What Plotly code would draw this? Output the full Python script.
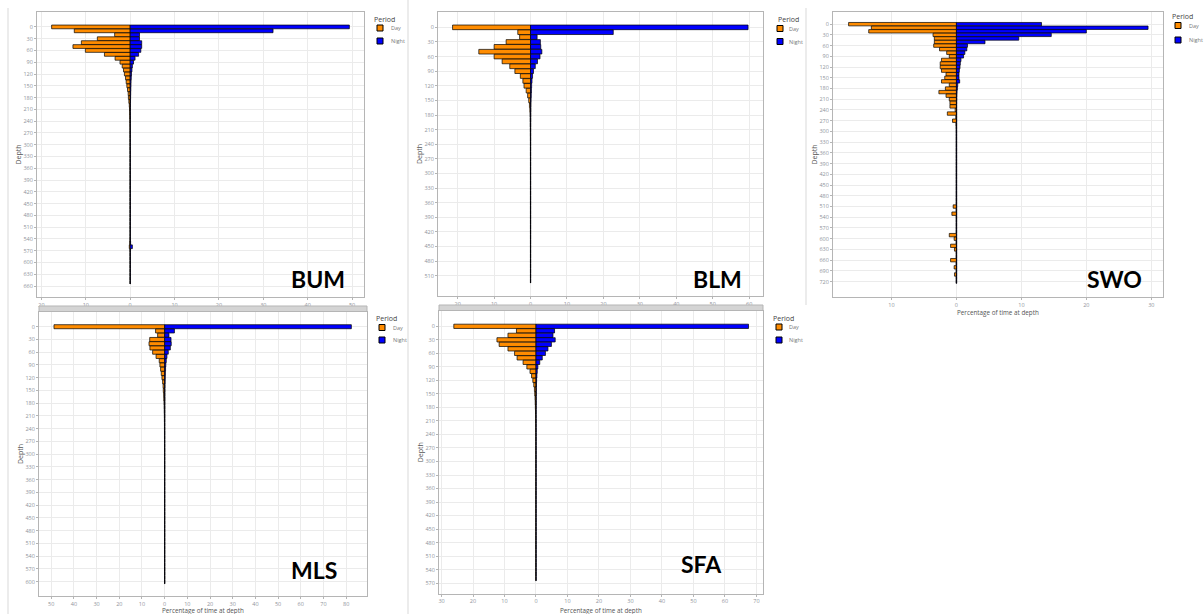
import plotly.graph_objects as go

W, H = 1204, 614
DAY_COLOR = "#FF8C00"
NIGHT_COLOR = "#0000FF"

# ---------------- data (percentage of time at depth, 10 m bins) ----------------
bum_day = [17.7, 12.6, 3.5, 7.4, 11.0, 12.9, 10.1, 5.8, 3.4, 2.3,
           1.8, 1.5, 1.3, 1.05, 0.9, 0.75, 0.6, 0.45, 0.4, 0.3,
           0.2, 0.15, 0.12, 0.1, 0.08, 0.07, 0.06, 0.06, 0.05, 0.05,
           0.05, 0.05, 0.04, 0.04, 0.04, 0.04, 0.04, 0.04, 0.04, 0.04,
           0.04, 0.04, 0.04, 0.04, 0.04, 0.04, 0.04, 0.04, 0.04, 0.04,
           0.04, 0.04, 0.04, 0.04, 0.05, 0.1, 0.2, 0.05, 0.04, 0.04,
           0.04, 0.04, 0.04, 0.04, 0.04, 0.04]
bum_night = [49.4, 32.2, 2.1, 2.1, 2.6, 2.6, 2.4, 1.9, 1.1, 0.75,
             0.5, 0.4, 0.3, 0.25, 0.2, 0.18, 0.15, 0.12, 0.1, 0.08,
             0.06, 0.05, 0.05, 0.05, 0.04, 0.04, 0.04, 0.04, 0.04, 0.04,
             0.04, 0.04, 0.04, 0.04, 0.04, 0.04, 0.04, 0.04, 0.04, 0.04,
             0.04, 0.04, 0.04, 0.04, 0.04, 0.04, 0.04, 0.04, 0.04, 0.04,
             0.04, 0.04, 0.04, 0.04, 0.05, 0.1, 0.5, 0.05, 0.04, 0.04,
             0.04, 0.04, 0.04, 0.04, 0.04, 0.04]

blm_day = [21.4, 3.5, 3.0, 6.7, 10.0, 14.2, 10.0, 7.8, 5.7, 4.3,
           2.8, 2.1, 1.8, 1.2, 0.8, 0.5, 0.3, 0.2, 0.15, 0.12,
           0.1, 0.08, 0.07, 0.06, 0.05, 0.05, 0.05, 0.04, 0.04, 0.04,
           0.04, 0.04, 0.04, 0.04, 0.04, 0.04, 0.04, 0.04, 0.04, 0.04,
           0.04, 0.04, 0.04, 0.04, 0.04, 0.04, 0.04, 0.04, 0.04, 0.04,
           0.04, 0.04, 0.04]
blm_night = [59.7, 22.7, 1.8, 2.7, 2.8, 3.1, 2.6, 1.9, 1.3, 0.8,
             0.55, 0.4, 0.3, 0.25, 0.2, 0.15, 0.12, 0.1, 0.08, 0.07,
             0.06, 0.05, 0.05, 0.05, 0.04, 0.04, 0.04, 0.04, 0.04, 0.04,
             0.04, 0.04, 0.04, 0.04, 0.04, 0.04, 0.04, 0.04, 0.04, 0.04,
             0.04, 0.04, 0.04, 0.04, 0.04, 0.04, 0.04, 0.04, 0.04, 0.04,
             0.04, 0.04, 0.04]

swo_day = [16.6, 13.1, 13.5, 3.6, 3.4, 3.4, 3.5, 2.6, 1.5, 1.1,
           2.3, 2.5, 2.5, 2.3, 1.6, 1.8, 2.3, 1.1, 1.7, 2.7,
           1.6, 1.1, 1.0, 1.0, 0.2, 1.4, 0.1, 0.6, 0.08, 0.06,
           0.05, 0.05, 0.05, 0.05, 0.05, 0.05, 0.05, 0.05, 0.05, 0.05,
           0.05, 0.05, 0.05, 0.05, 0.05, 0.05, 0.05, 0.05, 0.05, 0.05,
           0.05, 0.5, 0.05, 0.7, 0.05, 0.05, 0.05, 0.05, 0.05, 1.1,
           0.35, 0.05, 0.9, 0.3, 0.05, 0.05, 0.9, 0.05, 0.35, 0.05,
           0.3, 0.05, 0.05]
swo_night = [13.1, 29.5, 20.0, 14.6, 9.6, 4.4, 1.7, 1.6, 1.3, 1.1,
             0.7, 0.6, 0.55, 0.45, 0.4, 0.4, 0.5, 0.2, 0.15, 0.1,
             0.08, 0.07, 0.06, 0.05, 0.05, 0.05, 0.05, 0.05, 0.05, 0.05,
             0.05, 0.05, 0.05, 0.05, 0.05, 0.05, 0.05, 0.05, 0.05, 0.05,
             0.05, 0.05, 0.05, 0.05, 0.05, 0.05, 0.05, 0.05, 0.05, 0.05,
             0.05, 0.05, 0.05, 0.05, 0.05, 0.05, 0.05, 0.05, 0.05, 0.05,
             0.05, 0.05, 0.05, 0.05, 0.05, 0.05, 0.05, 0.05, 0.05, 0.05,
             0.05, 0.05, 0.05]

mls_day = [48.8, 4.0, 3.1, 6.6, 6.9, 6.5, 5.3, 3.8, 2.4, 2.1,
           1.8, 1.5, 1.2, 0.9, 0.7, 0.6, 0.45, 0.4, 0.3, 0.25,
           0.2, 0.15, 0.12, 0.1, 0.1, 0.08, 0.08, 0.07, 0.07, 0.06,
           0.06, 0.06, 0.06, 0.06, 0.06, 0.06, 0.06, 0.06, 0.06, 0.06,
           0.06, 0.06, 0.06, 0.06, 0.06, 0.06, 0.06, 0.06, 0.06, 0.06,
           0.06, 0.06, 0.06, 0.06, 0.06, 0.06, 0.06, 0.06, 0.06, 0.06,
           0.06]
mls_night = [82.3, 4.3, 1.9, 2.8, 2.9, 2.5, 1.6, 1.0, 0.7, 0.5,
             0.4, 0.3, 0.25, 0.2, 0.15, 0.12, 0.1, 0.1, 0.08, 0.08,
             0.07, 0.07, 0.06, 0.06, 0.06, 0.06, 0.06, 0.06, 0.06, 0.06,
             0.06, 0.06, 0.06, 0.06, 0.06, 0.06, 0.06, 0.06, 0.06, 0.06,
             0.06, 0.06, 0.06, 0.06, 0.06, 0.06, 0.06, 0.06, 0.06, 0.06,
             0.06, 0.06, 0.06, 0.06, 0.06, 0.06, 0.06, 0.06, 0.06, 0.06,
             0.06]

sfa_day = [26.1, 6.2, 8.9, 12.4, 11.7, 8.9, 6.8, 6.0, 4.1, 2.9,
           1.9, 1.4, 1.0, 0.7, 0.5, 0.4, 0.3, 0.25, 0.2, 0.15,
           0.12, 0.1, 0.08, 0.07, 0.06, 0.06, 0.05, 0.05, 0.05, 0.05,
           0.05, 0.05, 0.05, 0.05, 0.05, 0.05, 0.05, 0.05, 0.05, 0.05,
           0.05, 0.05, 0.05, 0.05, 0.05, 0.05, 0.05, 0.05, 0.05, 0.05,
           0.05, 0.05, 0.05, 0.05, 0.05, 0.05, 0.05]
sfa_night = [67.5, 5.9, 5.4, 6.1, 4.9, 3.8, 3.0, 2.0, 1.2, 0.6,
             0.4, 0.3, 0.2, 0.15, 0.12, 0.1, 0.08, 0.07, 0.06, 0.05,
             0.05, 0.05, 0.05, 0.05, 0.05, 0.05, 0.05, 0.05, 0.05, 0.05,
             0.05, 0.05, 0.05, 0.05, 0.05, 0.05, 0.05, 0.05, 0.05, 0.05,
             0.05, 0.05, 0.05, 0.05, 0.05, 0.05, 0.05, 0.05, 0.05, 0.05,
             0.05, 0.05, 0.05, 0.05, 0.05, 0.05, 0.05]

BIN = 10  # depth bin size (m)
periods = ["Day", "Night"]
legend_title = "Period"
x_title = "Percentage of time at depth"
y_title = "Depth"

# x tick values per panel (labels shown as absolute values)
bum_xticks = [-20, -10, 0, 10, 20, 30, 40, 50]
blm_xticks = [-20, -10, 0, 10, 20, 30, 40, 50, 60]
swo_xticks = [-10, 0, 10, 20, 30]
mls_xticks = [-50, -40, -30, -20, -10, 0, 10, 20, 30, 40, 50, 60, 70, 80]
sfa_xticks = [-30, -20, -10, 0, 10, 20, 30, 40, 50, 60, 70]

bum_yticks = list(range(0, 661, 30))
blm_yticks = list(range(0, 511, 30))
swo_yticks = list(range(0, 721, 30))
mls_yticks = list(range(0, 601, 30))
sfa_yticks = list(range(0, 571, 30))

# ---------------- layout geometry (pixels) ----------------
def px(x):
    return x / W

def py(y):
    return 1 - y / H

panels = [
    dict(name="BUM", day=bum_day, night=bum_night, xt=bum_xticks, yt=bum_yticks,
         box=(37, 364, 12, 297), xr=[-21.0, 52.7], yr=[688, -38],
         label=(318, 279), leg=(372, 19.5, 380, 28, 41, 389), xtitle=None),
    dict(name="BLM", day=blm_day, night=blm_night, xt=blm_xticks, yt=blm_yticks,
         box=(438, 763, 12, 296), xr=[-25.4, 63.8], yr=[551.5, -31.5],
         label=(717, 279), leg=(776, 19.5, 780, 28.5, 41.5, 787), xtitle=None),
    dict(name="SWO", day=swo_day, night=swo_night, xt=swo_xticks, yt=swo_yticks,
         box=(833, 1163, 12, 297), xr=[-19.0, 31.8], yr=[763, -34],
         label=(1114, 279), leg=(1170, 16, 1178, 25.5, 40, 1187), xtitle=(998, 312.5)),
    dict(name="MLS", day=mls_day, night=mls_night, xt=mls_xticks, yt=mls_yticks,
         box=(39, 367, 312, 596), xr=[-55.4, 89.2], yr=[633.6, -34.6],
         label=(314, 570), leg=(374, 318, 382, 327.5, 340, 391), xtitle=(203, 610.5)),
    dict(name="SFA", day=sfa_day, night=sfa_night, xt=sfa_xticks, yt=sfa_yticks,
         box=(439, 763, 311, 593.5), xr=[-30.8, 72.1], yr=[593, -34],
         label=(701, 564), leg=(771, 318, 779, 327, 340, 787), xtitle=(601, 610)),
]

fig = go.Figure()
layout = dict(
    width=W, height=H, autosize=False,
    margin=dict(l=0, r=0, t=0, b=0),
    paper_bgcolor="white", plot_bgcolor="white",
    font=dict(family="Open Sans, DejaVu Sans, sans-serif", color="#555"),
    barmode="overlay", showlegend=False,
)
annotations = []
shapes = []

TICK_FONT = dict(size=5.5, color="#8f939b")
GRID = "#ebebeb"
BORDER = "#b5b5b5"
OUTLINE = 0.7

for i, p in enumerate(panels, start=1):
    sfx = "" if i == 1 else str(i)
    xa, ya = "x" + sfx, "y" + sfx
    depths = [BIN * k for k in range(len(p["day"]))]
    x0, x1, y0, y1 = p["box"]

    fig.add_trace(go.Bar(
        y=depths, x=[-v for v in p["day"]], orientation="h", width=BIN * 0.95,
        marker=dict(color=DAY_COLOR, line=dict(color="black", width=OUTLINE)),
        name=periods[0], xaxis=xa, yaxis=ya, hoverinfo="skip"))
    fig.add_trace(go.Bar(
        y=depths, x=p["night"], orientation="h", width=BIN * 0.95,
        marker=dict(color=NIGHT_COLOR, line=dict(color="black", width=OUTLINE)),
        name=periods[1], xaxis=xa, yaxis=ya, hoverinfo="skip"))

    layout["xaxis" + sfx] = dict(
        domain=[px(x0), px(x1)], anchor=ya, range=p["xr"],
        tickvals=p["xt"], ticktext=[str(abs(v)) for v in p["xt"]],
        tickfont=TICK_FONT, ticks="outside", ticklen=2, tickcolor=BORDER,
        showgrid=True, gridcolor=GRID, gridwidth=1, zeroline=False,
        showline=True, linecolor=BORDER, linewidth=1, mirror=True,
        fixedrange=True,
    )
    layout["yaxis" + sfx] = dict(
        domain=[py(y1), py(y0)], anchor=xa, range=p["yr"],
        tickvals=p["yt"], ticktext=[str(v) for v in p["yt"]],
        tickfont=TICK_FONT, ticks="outside", ticklen=2, tickcolor=BORDER,
        showgrid=True, gridcolor=GRID, gridwidth=1, zeroline=False,
        showline=True, linecolor=BORDER, linewidth=1, mirror=True,
        title=dict(text=y_title, font=dict(size=7, color="#555"), standoff=0),
        fixedrange=True,
    )

    if p["xtitle"]:
        ttx, tty = p["xtitle"]
        annotations.append(dict(
            x=px(ttx), y=py(tty), xref="paper", yref="paper", showarrow=False,
            text=x_title, xanchor="center", yanchor="middle",
            font=dict(size=6.3, color="#555")))

    # legend (drawn as key squares + labels)
    tx, ty, sqx, dy, ny, lab_x = p["leg"]
    annotations.append(dict(
        x=px(tx), y=py(ty), xref="paper", yref="paper", showarrow=False,
        text=legend_title, xanchor="left", yanchor="middle",
        font=dict(size=7, color="#444")))
    for nm, col, cy in ((periods[0], DAY_COLOR, dy), (periods[1], NIGHT_COLOR, ny)):
        shapes.append(dict(type="rect", xref="paper", yref="paper",
                           x0=px(sqx - 3), x1=px(sqx + 3), y0=py(cy + 3), y1=py(cy - 3),
                           fillcolor=col, line=dict(color="black", width=1)))
        annotations.append(dict(
            x=px(lab_x), y=py(cy), xref="paper", yref="paper", showarrow=False,
            text=nm, xanchor="left", yanchor="middle",
            font=dict(size=5.5, color="#777")))

    lx_, ly_ = p["label"]
    annotations.append(dict(
        x=px(lx_), y=py(ly_), xref="paper", yref="paper", showarrow=False,
        text="<b>" + p["name"] + "</b>", xanchor="center", yanchor="middle",
        font=dict(family="Lato, Open Sans, sans-serif", size=23, color="black")))

# facet strips on top of the lower panels
for (sx0, sx1, sy0, sy1) in [(39, 367, 306, 311.5), (439, 763, 305, 310.5)]:
    shapes.append(dict(type="rect", xref="paper", yref="paper",
                       x0=px(sx0), x1=px(sx1), y0=py(sy1), y1=py(sy0),
                       fillcolor="#d4d4d4", line=dict(color="#b5b5b5", width=1),
                       layer="above"))
# screenshot separators
for (lx0, ly0, lx1, ly1) in [(8, 8, 8, 614), (408, 0, 408, 614), (806, 8, 806, 305)]:
    shapes.append(dict(type="line", xref="paper", yref="paper",
                       x0=px(lx0), x1=px(lx1), y0=py(ly0), y1=py(ly1),
                       line=dict(color="#e6e6e6", width=1.5)))

layout["annotations"] = annotations
layout["shapes"] = shapes
fig.update_layout(**layout)
fig.write_html("out.html",
               config={"displayModeBar": False, "staticPlot": True},
               post_script="document.body.style.margin='0px';"
                           "document.body.style.overflow='hidden';")
